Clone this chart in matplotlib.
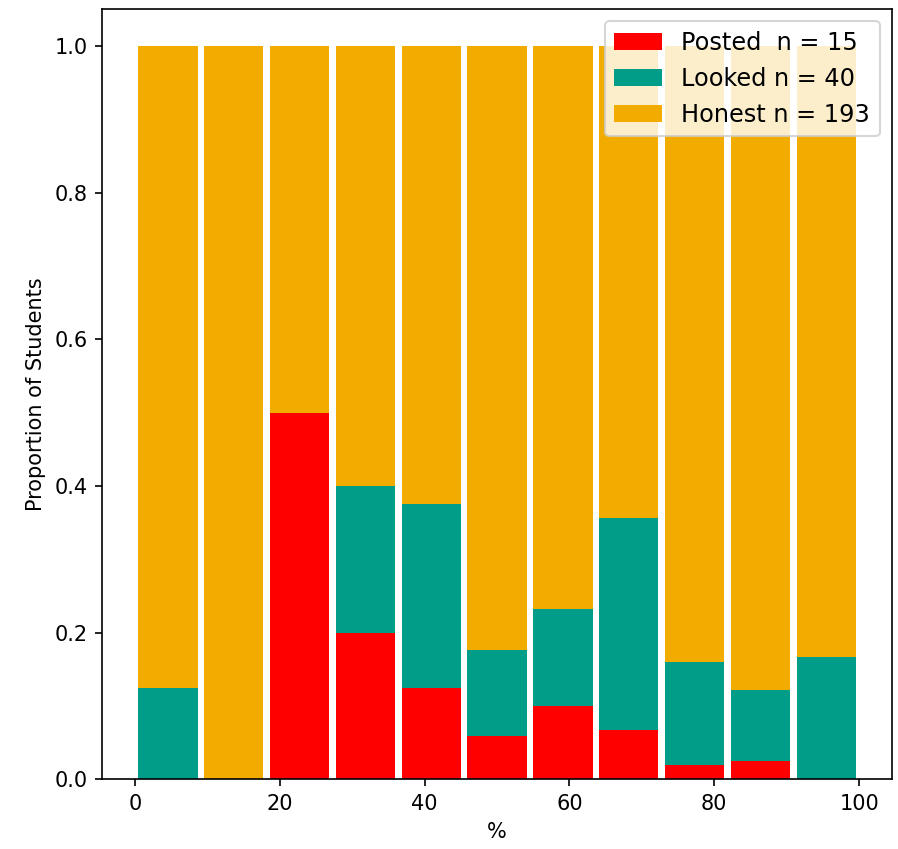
import matplotlib
matplotlib.use('Agg')
import matplotlib.pyplot as plt
import numpy as np

# bin edges of the score range (%)
bin_edges = np.linspace(0, 100, 12)

# proportion of students in each bin
posted = [0.0, 0.0, 0.5, 0.2, 0.125, 0.059, 0.1, 0.067, 0.02, 0.025, 0.0]
looked = [0.125, 0.0, 0.0, 0.2, 0.25, 0.117, 0.133, 0.29, 0.14, 0.097, 0.167]

labels = ['Posted  n = 15', 'Looked n = 40', 'Honest n = 193']
colors = ['#ff0000', '#009e88', '#f2ac00']

centers = (bin_edges[:-1] + bin_edges[1:]) / 2
width = 0.9 * (bin_edges[1] - bin_edges[0])

posted = np.array(posted)
looked = np.array(looked)
honest = 1 - posted - looked

fig, ax = plt.subplots(figsize=(898 / 150, 849 / 150), dpi=150)
fig.subplots_adjust(left=0.114, right=0.993, top=0.989, bottom=0.082)

ax.bar(centers, posted, width=width, color=colors[0], label=labels[0])
ax.bar(centers, looked, width=width, bottom=posted, color=colors[1], label=labels[1])
ax.bar(centers, honest, width=width, bottom=posted + looked, color=colors[2], label=labels[2])

ax.set_xlabel('%')
ax.set_ylabel('Proportion of Students')
ax.legend(loc='upper right', fontsize=11.5, labelspacing=0.5)

fig.savefig('out.png', dpi=150)
